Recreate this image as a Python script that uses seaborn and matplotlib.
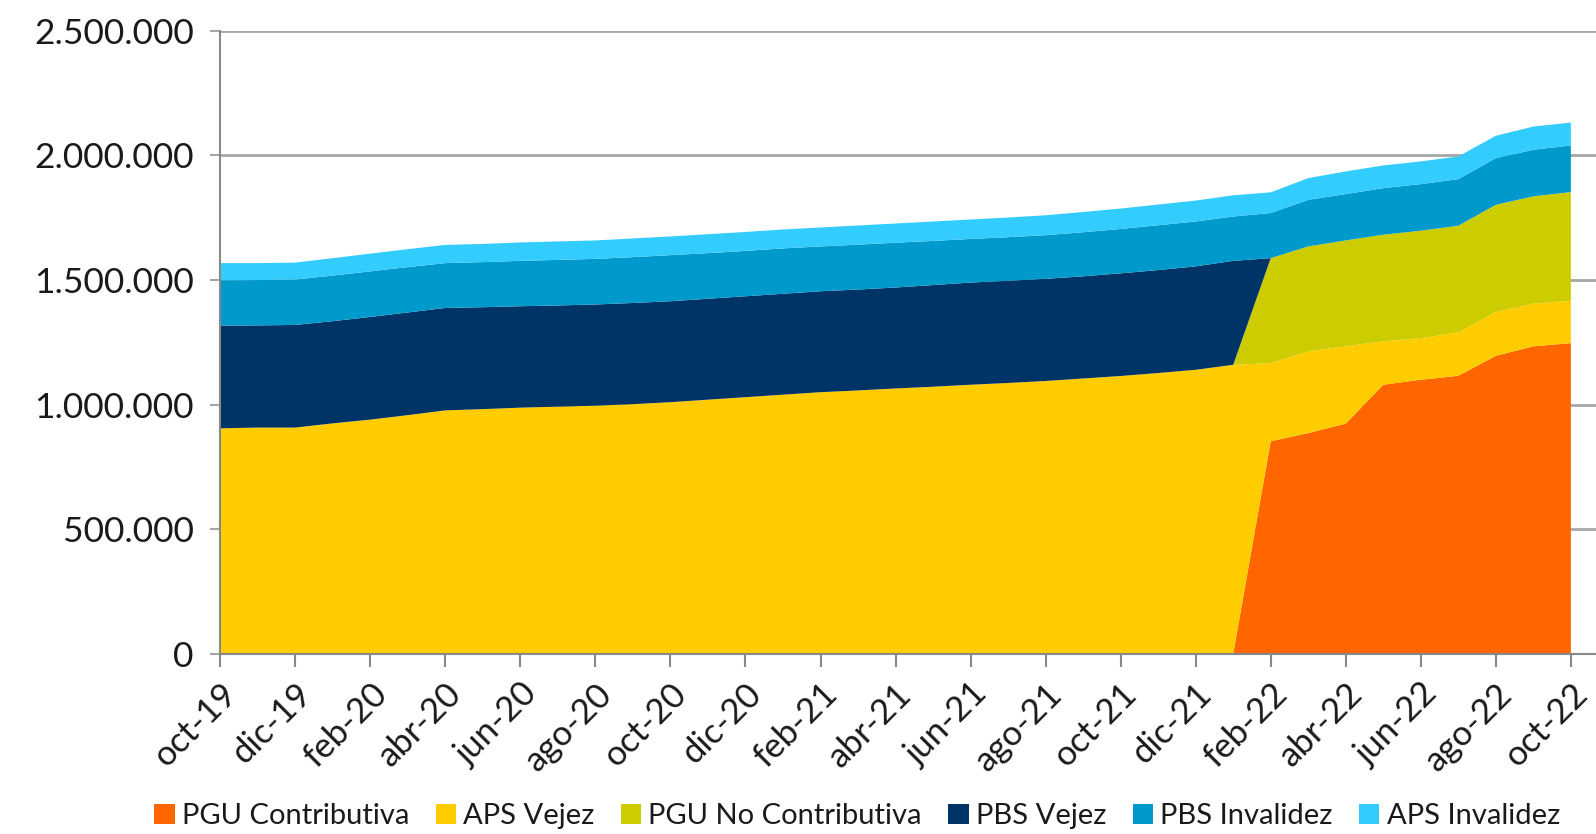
import seaborn as sns
import matplotlib.pyplot as plt
from matplotlib.patches import Patch
from matplotlib.ticker import FuncFormatter, MultipleLocator

# meses oct-19 .. oct-22
meses = ["oct-19", "nov-19", "dic-19", "ene-20", "feb-20", "mar-20", "abr-20", "may-20",
         "jun-20", "jul-20", "ago-20", "sep-20", "oct-20", "nov-20", "dic-20", "ene-21",
         "feb-21", "mar-21", "abr-21", "may-21", "jun-21", "jul-21", "ago-21", "sep-21",
         "oct-21", "nov-21", "dic-21", "ene-22", "feb-22", "mar-22", "abr-22", "may-22",
         "jun-22", "jul-22", "ago-22", "sep-22", "oct-22"]

# valores en miles de personas
pgu_contributiva = [0] * 28 + [853, 886, 924, 1080, 1100, 1116, 1196, 1234, 1247]
aps_vejez = [905, 908, 908, 925, 940, 958, 977, 982, 988, 992, 996, 1002, 1010, 1020,
             1030, 1040, 1050, 1057, 1065, 1072, 1080, 1087, 1095, 1105, 1115, 1127,
             1140, 1160, 314, 328, 310, 174, 167, 174, 176, 171, 170]
pgu_no_contributiva = [0] * 28 + [421, 421, 425, 428, 431, 428, 430, 431, 436]
pbs_vejez = [412, 410, 412, 410, 412, 412, 411, 409, 407, 406, 406, 406, 405, 405, 405,
             405, 405, 405, 405, 408, 410, 410, 410, 410, 412, 413, 415, 417,
             0, 0, 0, 0, 0, 0, 0, 0, 0]
pbs_invalidez = [182, 182, 182, 183, 183, 182, 180, 181, 182, 183, 183, 184, 185, 183,
                 182, 182, 180, 180, 180, 177, 175, 175, 175, 177, 178, 180, 180, 178,
                 181, 187, 186, 187, 187, 187, 187, 187, 187]
aps_invalidez = [69, 68, 68, 70, 71, 72, 73, 73, 74, 74, 74, 75, 75, 76, 76, 76, 76, 77,
                 77, 78, 78, 79, 80, 81, 82, 83, 84, 85, 83, 87, 91, 91, 91, 91, 90, 93, 92]

series = ["PGU Contributiva", "APS Vejez", "PGU No Contributiva",
          "PBS Vejez", "PBS Invalidez", "APS Invalidez"]
colores = ["#FF6600", "#FFCC00", "#CCCC00", "#003366", "#0099CC", "#33CCFF"]

sns.set_theme(style="white")
plt.rcParams["font.family"] = ["Lato", "DejaVu Sans"]

fig = plt.figure(figsize=(15.96, 8.34), dpi=100)
ax = fig.add_axes([0.138, 0.216, 0.862, 0.747])

x = list(range(len(meses)))
valores = [pgu_contributiva, aps_vejez, pgu_no_contributiva,
           pbs_vejez, pbs_invalidez, aps_invalidez]
valores = [[v * 1000 for v in s] for s in valores]
ax.stackplot(x, *valores, colors=colores, labels=series, linewidth=0,
             edgecolor="none", zorder=2)

ax.set_xlim(0, 36.67)
ax.set_ylim(0, 2500000)
ax.yaxis.set_major_locator(MultipleLocator(500000))
ax.yaxis.set_major_formatter(FuncFormatter(lambda v, p: f"{int(v):,}".replace(",", ".")))
ax.grid(axis="y", color="#A6A6A6", linewidth=2, zorder=1)
ax.set_axisbelow(True)

ax.set_xticks(x[::2])
ax.set_xticklabels(meses[::2], rotation=45, ha="right", rotation_mode="anchor",
                   fontsize=25, color="#1a1a1a")
ax.tick_params(axis="x", which="major", direction="out", length=9, width=1.5,
               color="#888888", bottom=True, pad=8)
ax.tick_params(axis="y", which="major", direction="out", length=7, width=1.5,
               color="#A6A6A6", left=True, labelsize=25.5, labelcolor="#1a1a1a", pad=12)

for s in ["top", "right"]:
    ax.spines[s].set_visible(False)
ax.spines["left"].set_color("#888888")
ax.spines["left"].set_linewidth(1.5)
ax.spines["bottom"].set_color("#888888")
ax.spines["bottom"].set_linewidth(1.5)

handles = [Patch(facecolor=c, edgecolor="none") for c in colores]
fig.legend(handles, series, loc="lower center", bbox_to_anchor=(0.537, -0.026), ncol=6,
           frameon=False, fontsize=21, handlelength=0.7, handleheight=0.7,
           handletextpad=0.25, columnspacing=0.9, labelcolor="#1a1a1a")

fig.savefig("out.png", dpi=100)
